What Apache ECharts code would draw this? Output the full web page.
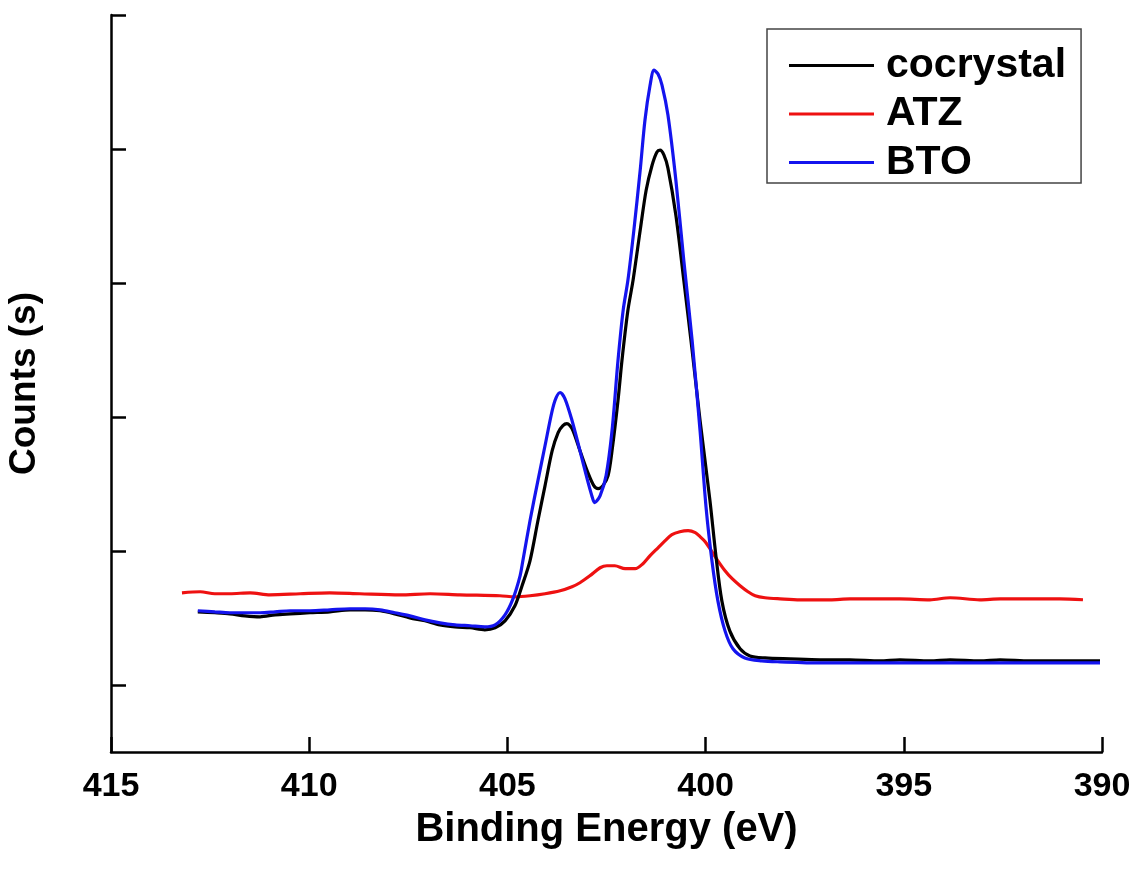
<!DOCTYPE html>
<html>
<head>
<meta charset="utf-8">
<script src="https://cdn.jsdelivr.net/npm/echarts@6/dist/echarts.min.js"></script>
<style>
html,body{margin:0;padding:0;background:#ffffff;}
#chart{width:1144px;height:877px;}
</style>
</head>
<body>
<div id="chart"></div>
<script>
// Binding energy (eV) and counts (arbitrary units)
const cocrystalEnergy = [412.81,412.38,412.00,411.62,411.24,410.86,410.48,409.98,409.48,408.97,408.59,408.21,407.84,407.46,407.08,406.70,406.32,405.94,405.57,405.31,405.06,404.81,404.63,404.43,404.23,404.05,403.87,403.72,403.60,403.50,403.37,403.17,402.97,402.82,402.71,402.59,402.46,402.36,402.21,402.11,401.96,401.83,401.65,401.50,401.35,401.23,401.15,401.05,400.95,400.75,400.55,400.34,400.14,399.89,399.74,399.59,399.39,399.13,398.88,398.50,397.87,397.11,396.36,395.60,395.10,394.34,393.83,393.08,392.57,391.82,391.06,390.05];
const cocrystalCounts = [1046,1039,1031,1016,1009,1024,1031,1039,1046,1061,1061,1054,1031,1001,979,949,934,927,912,927,979,1091,1241,1427,1726,1988,2249,2384,2436,2451,2414,2249,2085,1988,1965,1988,2063,2249,2623,2922,3296,3520,3893,4192,4379,4476,4491,4454,4357,4005,3520,2997,2474,1876,1465,1128,904,770,717,702,695,688,688,680,688,680,688,680,688,680,680,680];

const atzEnergy = [413.21,412.75,412.38,412.00,411.49,410.99,410.23,409.48,408.72,407.71,406.95,406.20,405.19,404.81,404.43,404.05,403.67,403.37,403.17,402.92,402.66,402.49,402.29,402.03,401.78,401.58,401.40,401.20,401.02,400.85,400.65,400.44,400.26,400.14,400.01,399.89,399.69,399.51,399.33,399.13,398.93,398.75,398.50,398.12,397.62,396.86,396.36,395.60,395.10,394.34,393.83,393.08,392.57,391.82,391.06,390.48];
const atzCounts = [1188,1196,1181,1181,1188,1173,1181,1188,1181,1173,1181,1173,1166,1158,1166,1181,1203,1233,1263,1315,1375,1390,1390,1368,1368,1405,1465,1524,1577,1622,1644,1652,1637,1607,1569,1517,1427,1353,1293,1241,1196,1166,1151,1143,1136,1136,1143,1143,1143,1136,1151,1136,1143,1143,1143,1136];

const btoEnergy = [412.81,412.38,412.00,411.62,411.24,410.86,410.48,409.98,409.48,408.97,408.59,408.21,407.84,407.46,407.08,406.70,406.32,405.94,405.57,405.31,405.06,404.86,404.68,404.61,404.43,404.23,404.05,403.87,403.77,403.67,403.55,403.37,403.17,402.99,402.87,402.80,402.66,402.51,402.36,402.21,402.08,401.96,401.81,401.65,401.53,401.40,401.30,401.20,401.10,400.95,400.75,400.55,400.34,400.14,399.99,399.84,399.69,399.51,399.31,399.01,398.58,398.12,397.11,395.60,393.83,392.57,391.31,390.05];
const btoCounts = [1054,1046,1039,1039,1039,1046,1054,1054,1061,1069,1069,1061,1039,1016,986,964,949,942,934,949,1024,1143,1315,1427,1726,2025,2287,2548,2645,2683,2638,2474,2249,2040,1913,1861,1913,2063,2399,2922,3296,3520,3893,4342,4715,4977,5089,5059,4977,4753,4267,3669,3071,2399,1831,1427,1128,904,770,702,680,673,665,665,665,665,665,665];

const seriesNames = ['cocrystal','ATZ','BTO'];
const xTickLabels = [390,395,400,405,410,415];
const yTickValues = [500,1500,2500,3500,4500,5500];

function pairs(xs, ys){ return xs.map((x,i)=>[x, ys[i]]); }

const chart = echarts.init(document.getElementById('chart'));
const boldFont = 'Liberation Sans, Arial, Helvetica, sans-serif';

chart.setOption({
  backgroundColor: '#ffffff',
  animation: false,
  grid: { left: 111, right: 42, top: 15, bottom: 125, containLabel: false, outerBoundsMode: 'none' },
  legend: {
    left: 767, top: 29,
    orient: 'vertical',
    data: seriesNames,
    icon: 'rect',
    itemWidth: 85, itemHeight: 3,
    itemGap: 7.5,
    padding: [16, 15, 0, 22],
    borderColor: '#444', borderWidth: 1.5,
    textStyle: { fontFamily: boldFont, fontWeight: 'bold', fontSize: 41, color: '#000', padding: [0, 0, 0, 7] }
  },
  xAxis: {
    type: 'value',
    inverse: true,
    min: 390, max: 415, interval: 5,
    name: 'Binding Energy (eV)',
    nameLocation: 'middle',
    nameGap: 58,
    nameTextStyle: { fontFamily: boldFont, fontWeight: 'bold', fontSize: 40, color: '#000', verticalAlign: 'top' },
    axisLine: { show: true, lineStyle: { color: '#000', width: 2.5 } },
    axisTick: { show: true, inside: true, length: 15, lineStyle: { color: '#000', width: 2.5 } },
    axisLabel: {
      fontFamily: boldFont, fontWeight: 'bold', fontSize: 34, color: '#000', margin: 18,
      formatter: v => xTickLabels.includes(v) ? String(v) : ''
    },
    splitLine: { show: false }
  },
  yAxis: {
    type: 'value',
    min: 0, max: 5500,
    name: 'Counts (s)',
    nameLocation: 'middle',
    nameGap: 68,
    nameRotate: 90,
    nameTextStyle: { fontFamily: boldFont, fontWeight: 'bold', fontSize: 37, color: '#000' },
    axisLine: { show: true, lineStyle: { color: '#000', width: 2.5 } },
    axisTick: { show: true, inside: true, length: 15, customValues: yTickValues, lineStyle: { color: '#000', width: 2.5 } },
    axisLabel: { show: false },
    splitLine: { show: false }
  },
  series: [
    { name: 'cocrystal', type: 'line', data: pairs(cocrystalEnergy, cocrystalCounts), showSymbol: false, symbol: 'none', smooth: 0.3,
      lineStyle: { color: '#000000', width: 3.2 }, itemStyle: { color: '#000000' }, z: 3 },
    { name: 'ATZ', type: 'line', data: pairs(atzEnergy, atzCounts), showSymbol: false, symbol: 'none', smooth: 0.3,
      lineStyle: { color: '#ee1111', width: 3.2 }, itemStyle: { color: '#ee1111' }, z: 2 },
    { name: 'BTO', type: 'line', data: pairs(btoEnergy, btoCounts), showSymbol: false, symbol: 'none', smooth: 0.3,
      lineStyle: { color: '#1414ee', width: 3.2 }, itemStyle: { color: '#1414ee' }, z: 4 }
  ]
});
</script>
</body>
</html>
